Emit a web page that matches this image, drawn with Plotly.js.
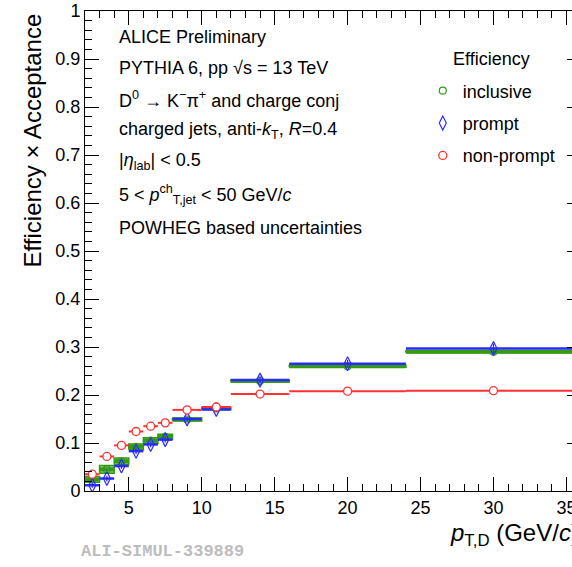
<!DOCTYPE html>
<html>
<head>
<meta charset="utf-8">
<script src="https://cdn.plot.ly/plotly-3.0.1.min.js"></script>
<style>
html, body { margin: 0; padding: 0; overflow: hidden; background: #fff; }
#chart { width: 600px; height: 567px; }
</style>
</head>
<body>
<div id="chart"></div>
<script>
// pT,D bins (GeV/c)
const binLo = [2, 3, 4, 5, 6, 7, 8, 10, 12, 16, 24];
const binHi = [3, 4, 5, 6, 7, 8, 10, 12, 16, 24, 36];

// Efficiency x Acceptance
const inclusive  = [0.024, 0.045, 0.062, 0.092, 0.105, 0.113, 0.149, 0.172, 0.229, 0.260, 0.290];
const prompt     = [0.012, 0.026, 0.052, 0.083, 0.097, 0.107, 0.150, 0.170, 0.231, 0.265, 0.297];
const nonPrompt  = [0.035, 0.072, 0.095, 0.124, 0.135, 0.142, 0.169, 0.175, 0.202, 0.208, 0.209];

// uncertainties
const inclusiveSyst = [0.006, 0.008, 0.007, 0.006, 0.006, 0.005, 0.003, 0.002, 0.002, 0.002, 0.002];
const inclusiveStat = [0.002, 0.002, 0.002, 0.002, 0.002, 0.002, 0.002, 0.002, 0.003, 0.004, 0.008];
const promptStat    = [0.005, 0.006, 0.006, 0.006, 0.006, 0.006, 0.005, 0.005, 0.008, 0.008, 0.010];
const nonPromptStat = [0.001, 0.001, 0.001, 0.001, 0.001, 0.001, 0.001, 0.001, 0.001, 0.001, 0.001];

const legendNames = ['inclusive', 'prompt', 'non-prompt'];

const centers = binLo.map((lo, i) => (lo + binHi[i]) / 2);
const halfW = binLo.map((lo, i) => (binHi[i] - lo) / 2);

const GREEN = '#339a12';
const BLUE = '#2a2aff';
const RED = '#ff3030';

// systematic boxes for inclusive
const boxX = [], boxY = [];
binLo.forEach((lo, i) => {
  const hi = binHi[i], v = inclusive[i], s = inclusiveSyst[i];
  boxX.push(lo, hi, hi, lo, lo, null);
  boxY.push(v - s, v - s, v + s, v + s, v - s, null);
});

const FONT = 'Liberation Sans, Arial, sans-serif';

const traces = [
  {
    x: boxX, y: boxY, type: 'scatter', mode: 'lines', fill: 'toself',
    fillcolor: '#9cc78c', line: {color: GREEN, width: 1.5},
    showlegend: false, hoverinfo: 'skip'
  },
  {
    x: centers, y: inclusive, type: 'scatter', mode: 'markers', name: legendNames[0],
    legendgroup: 'a',
    marker: {symbol: 'circle', size: 7, color: 'rgba(0,0,0,0)', line: {color: GREEN, width: 1.2}},
    error_x: {type: 'data', array: halfW, visible: true, width: 0, thickness: 4, color: GREEN},
    error_y: {type: 'data', array: inclusiveStat, visible: true, width: 0, thickness: 1.5, color: GREEN}
  },
  {
    x: centers, y: prompt, type: 'scatter', mode: 'markers', name: legendNames[1],
    legendgroup: 'b',
    marker: {symbol: 'diamond-tall-open', size: 10, color: BLUE, line: {width: 1.2}},
    error_x: {type: 'data', array: halfW, visible: true, width: 0, thickness: 2.5, color: BLUE},
    error_y: {type: 'data', array: promptStat, visible: true, width: 0, thickness: 1.2, color: BLUE}
  },
  {
    x: centers, y: nonPrompt, type: 'scatter', mode: 'markers', name: legendNames[2],
    legendgroup: 'c',
    marker: {symbol: 'circle', size: 8, color: '#ffffff', line: {color: RED, width: 1.3}},
    error_x: {type: 'data', array: halfW, visible: true, width: 0, thickness: 2, color: RED},
    error_y: {type: 'data', array: nonPromptStat, visible: true, width: 0, thickness: 1.2, color: RED}
  }
];

const textLines = [
  'ALICE Preliminary',
  'PYTHIA 6, pp √s = 13 TeV',
  'D<sup>0</sup> → K<sup>−</sup>π<sup>+</sup> and charge conj',
  'charged jets, anti-<i>k</i><sub>T</sub>, <i>R</i>=0.4',
  '|<i>η</i><sub>lab</sub>| < 0.5',
  '5 < <i>p</i><sup>ch</sup><sub>T,jet</sub> < 50 GeV/<i>c</i>',
  'POWHEG based uncertainties'
];
const textY = [0.945, 0.881, 0.816, 0.751, 0.686, 0.618, 0.547];

const annotations = textLines.map((t, i) => ({
  text: t, xref: 'paper', yref: 'paper', x: 0.065, y: textY[i],
  xanchor: 'left', yanchor: 'middle', showarrow: false,
  font: {family: FONT, size: 18, color: '#000'}
}));

annotations.push({
  text: 'Efficiency × Acceptance', xref: 'paper', yref: 'paper',
  x: -0.106, y: 1.0, xanchor: 'center', yanchor: 'top', textangle: -90,
  showarrow: false, font: {family: FONT, size: 24, color: '#000'}
});
annotations.push({
  text: '<i>p</i><sub>T,D</sub> (GeV/<i>c</i>)', xref: 'paper', yref: 'paper',
  x: 1.0, y: -0.055, xanchor: 'right', yanchor: 'top',
  showarrow: false, font: {family: FONT, size: 24, color: '#000'}
});
annotations.push({
  text: 'Efficiency', xref: 'paper', yref: 'paper',
  x: 0.737, y: 0.901, xanchor: 'left', yanchor: 'middle',
  showarrow: false, font: {family: FONT, size: 18, color: '#000'}
});
annotations.push({
  text: '<b>ALI-SIMUL-339889</b>', xref: 'paper', yref: 'paper',
  x: -0.012, y: -0.125, xanchor: 'left', yanchor: 'middle',
  showarrow: false, font: {family: 'Liberation Mono, DejaVu Sans Mono, monospace', size: 17, color: '#bdbdbd'}
});

const axisCommon = {
  showgrid: false, zeroline: false, showline: true, linecolor: '#000', linewidth: 1,
  mirror: 'allticks', ticks: 'inside', ticklen: 14, tickwidth: 1, tickcolor: '#000',
  tickfont: {family: FONT, size: 18, color: '#000'}
};

const layout = {
  width: 600, height: 567,
  margin: {l: 84.5, r: 19, t: 10.7, b: 76.3},
  paper_bgcolor: '#fff', plot_bgcolor: '#fff',
  showlegend: true,
  legend: {
    x: 0.681, y: 0.872, xanchor: 'left', yanchor: 'top',
    bgcolor: 'rgba(0,0,0,0)', borderwidth: 0,
    font: {family: FONT, size: 18, color: '#000'},
    tracegroupgap: 6, itemwidth: 30
  },
  xaxis: Object.assign({}, axisCommon, {
    range: [2, 36], dtick: 5, tick0: 0,
    minor: {dtick: 1, ticklen: 7, ticks: 'inside', tickcolor: '#000'}
  }),
  yaxis: Object.assign({}, axisCommon, {
    range: [0, 1], dtick: 0.1, tick0: 0,
    minor: {dtick: 0.02, ticklen: 7, ticks: 'inside', tickcolor: '#000'}
  }),
  annotations: annotations
};

Plotly.newPlot('chart', traces, layout, {displayModeBar: false, staticPlot: true});
</script>
</body>
</html>
